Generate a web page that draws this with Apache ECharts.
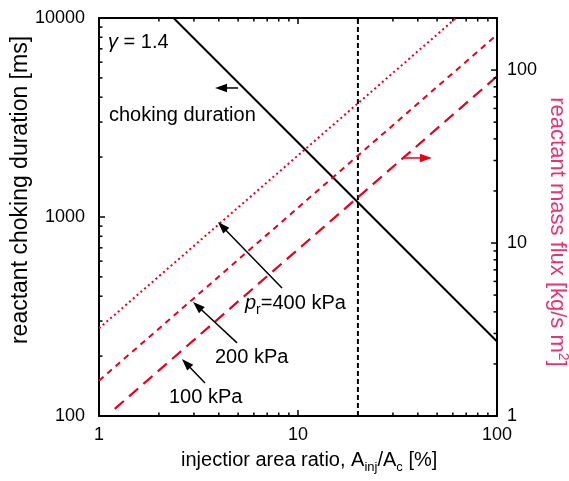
<!DOCTYPE html>
<html><head><meta charset="utf-8">
<script src="https://cdn.jsdelivr.net/npm/echarts@6/dist/echarts.min.js"></script>
<style>html,body{margin:0;padding:0;background:#fff}#c{width:569px;height:481px}</style>
</head><body><div id="c"></div>
<script>
const FONT = '"Liberation Sans", Arial, Helvetica, sans-serif';

// axis ranges
const xRange = [1, 100];
const leftRange = [100, 10000];
const rightRange = [1, 200];

// tick values
const xMajorTicks = [1, 10, 100];
const xMinorTicks = [2, 3, 4, 5, 6, 7, 8, 9, 20, 30, 40, 50, 60, 70, 80, 90];
const leftMajorTicks = [100, 1000, 10000];
const leftMinorTicks = [200, 300, 400, 500, 600, 700, 800, 900, 2000, 3000, 4000, 5000, 6000, 7000, 8000, 9000];
const rightMajorTicks = [1, 10, 100];
const rightMinorTicks = [2, 3, 4, 5, 6, 7, 8, 9, 20, 30, 40, 50, 60, 70, 80, 90, 200];

// choking duration [ms] vs area ratio [%]
const chokingRatio = [2.37, 100];
const chokingDuration = [10000, 237];

// reactant mass flux [kg/s m2] vs area ratio [%]
const ratio400 = [1, 62.3];
const flux400 = [3.21, 200];
const ratio200 = [1, 100];
const flux200 = [1.6, 160];
const ratio100 = [1.2, 100];
const flux100 = [1.1, 92];

// design area ratio (vertical dashed line)
const designRatio = [20, 20];
const designSpan = [100, 10000];

// annotation arrows: [ratio from, duration from, ratio to, duration to, red?]
const arrowFrom = [[5.0, 4450], [34.1, 1980], [8.31, 440], [4.94, 233], [3.41, 146.5]];
const arrowTo = [[3.83, 4450], [47.1, 1980], [3.96, 944], [2.97, 374], [2.61, 193.4]];
const arrowRed = [0, 1, 0, 0, 0];

const zip = (a, b) => a.map((v, i) => [v, b[i]]);
const isPow10 = v => Math.abs(Math.log10(v) - Math.round(Math.log10(v))) < 1e-6;

const tickData = [];
xMajorTicks.forEach(v => tickData.push([v, 100, 0, 1]));
xMinorTicks.forEach(v => tickData.push([v, 100, 0, 0]));
leftMajorTicks.forEach(v => tickData.push([1, v, 1, 1]));
leftMinorTicks.forEach(v => tickData.push([1, v, 1, 0]));
const rightTickData = [];
rightMajorTicks.forEach(v => rightTickData.push([1, v, 2, 1]));
rightMinorTicks.forEach(v => rightTickData.push([1, v, 2, 0]));

function renderTick(params, api) {
  const cs = params.coordSys;
  const kind = api.value(2), major = api.value(3);
  const len = major ? 6 : 3.5;
  const p = api.coord([api.value(0), api.value(1)]);
  const st = { stroke: '#000', lineWidth: 1.5 };
  const segs = [];
  if (kind === 0) {
    segs.push([p[0], cs.y + cs.height, p[0], cs.y + cs.height - len]);
    segs.push([p[0], cs.y, p[0], cs.y + len]);
  } else if (kind === 1) {
    segs.push([cs.x, p[1], cs.x + len, p[1]]);
  } else {
    segs.push([cs.x + cs.width, p[1], cs.x + cs.width - len, p[1]]);
  }
  return { type: 'group', children: segs.map(s => ({ type: 'line', shape: { x1: s[0], y1: s[1], x2: s[2], y2: s[3] }, style: st })) };
}

const arrowData = arrowFrom.map((f, i) => [f[0], f[1], arrowTo[i][0], arrowTo[i][1], arrowRed[i]]);
function renderArrow(params, api) {
  const a = api.coord([api.value(0), api.value(1)]);
  const b = api.coord([api.value(2), api.value(3)]);
  const col = api.value(4) ? '#e6001a' : '#000';
  const dx = b[0] - a[0], dy = b[1] - a[1];
  const L = Math.hypot(dx, dy), ux = dx / L, uy = dy / L;
  const hl = 12, hw = 4.2;
  const bx = b[0] - ux * hl, by = b[1] - uy * hl;
  const nx = -uy, ny = ux;
  return { type: 'group', children: [
    { type: 'line', shape: { x1: a[0], y1: a[1], x2: bx + ux * 2, y2: by + uy * 2 }, style: { stroke: col, lineWidth: 1.5 } },
    { type: 'polygon', shape: { points: [[b[0], b[1]], [bx + nx * hw, by + ny * hw], [bx - nx * hw, by - ny * hw]] }, style: { fill: col } }
  ] };
}

const logAxisBase = {
  type: 'log', logBase: 10,
  axisLine: { show: true, onZero: false, lineStyle: { color: '#000', width: 2 } },
  axisTick: { show: false }, minorTick: { show: false },
  splitLine: { show: false }, minorSplitLine: { show: false }
};
const labelStyle = { color: '#000', fontSize: 18, fontFamily: FONT, formatter: v => isPow10(v) ? String(Math.round(v)) : '' };

const chart = echarts.init(document.getElementById('c'), null, { renderer: 'canvas' });
chart.setOption({
  animation: false,
  backgroundColor: '#fff',
  grid: { left: 99, right: 72, top: 18, bottom: 65, containLabel: false },
  xAxis: [
    Object.assign({}, logAxisBase, { position: 'bottom', min: xRange[0], max: xRange[1], axisLabel: Object.assign({}, labelStyle, { margin: 10 }) }),
    Object.assign({}, logAxisBase, { position: 'top', min: xRange[0], max: xRange[1], axisLabel: { show: false } })
  ],
  yAxis: [
    Object.assign({}, logAxisBase, { position: 'left', min: leftRange[0], max: leftRange[1], axisLabel: Object.assign({}, labelStyle, { margin: 14 }) }),
    Object.assign({}, logAxisBase, { position: 'right', min: rightRange[0], max: rightRange[1], axisLabel: Object.assign({}, labelStyle, { margin: 10 }) })
  ],
  series: [
    { type: 'line', name: 'design', xAxisIndex: 0, yAxisIndex: 0, data: zip(designRatio, designSpan), symbol: 'none', silent: true,
      lineStyle: { color: '#000', width: 2, type: [5, 3] } },
    { type: 'line', name: 'choking duration', xAxisIndex: 0, yAxisIndex: 0, data: zip(chokingRatio, chokingDuration), symbol: 'none', silent: true,
      lineStyle: { color: '#000', width: 2 } },
    { type: 'line', name: '400 kPa', xAxisIndex: 0, yAxisIndex: 1, data: zip(ratio400, flux400), symbol: 'none', silent: true,
      lineStyle: { color: '#e6001a', width: 2, type: [2, 3] } },
    { type: 'line', name: '200 kPa', xAxisIndex: 0, yAxisIndex: 1, data: zip(ratio200, flux200), symbol: 'none', silent: true,
      lineStyle: { color: '#e6001a', width: 2, type: [6, 5] } },
    { type: 'line', name: '100 kPa', xAxisIndex: 0, yAxisIndex: 1, data: zip(ratio100, flux100), symbol: 'none', silent: true,
      lineStyle: { color: '#e6001a', width: 2.2, type: [12, 7] } },
    { type: 'custom', name: 'ticks', xAxisIndex: 0, yAxisIndex: 0, data: tickData, renderItem: renderTick, encode: { x: 0, y: 1 }, silent: true, z: 5 },
    { type: 'custom', name: 'rticks', xAxisIndex: 0, yAxisIndex: 1, data: rightTickData, renderItem: renderTick, encode: { x: 0, y: 1 }, silent: true, z: 5 },
    { type: 'custom', name: 'arrows', xAxisIndex: 0, yAxisIndex: 0, data: arrowData, renderItem: renderArrow, encode: { x: [0, 2], y: [1, 3] }, silent: true, z: 6 }
  ],
  graphic: [
    { type: 'text', x: 108, y: 42, style: { text: '{g|γ}{m| = 1.4}', verticalAlign: 'middle', rich: {
      g: { fontSize: 20, fontFamily: FONT, fontStyle: 'italic', fill: '#000' }, m: { fontSize: 20, fontFamily: FONT, fill: '#000' } } } },
    { type: 'text', x: 109, y: 115, style: { text: 'choking duration', fontSize: 20, fontFamily: FONT, fill: '#000', verticalAlign: 'middle' } },
    { type: 'text', x: 245, y: 303, style: { text: '{p|p}{s|r}{m|=400 kPa}', verticalAlign: 'middle', rich: {
      p: { fontSize: 20, fontFamily: FONT, fontStyle: 'italic', fill: '#000', lineHeight: 28 },
      s: { fontSize: 14, fontFamily: FONT, fill: '#000', lineHeight: 14, verticalAlign: 'bottom' },
      m: { fontSize: 20, fontFamily: FONT, fill: '#000', lineHeight: 28 } } } },
    { type: 'text', x: 215, y: 357, style: { text: '200 kPa', fontSize: 20, fontFamily: FONT, fill: '#000', verticalAlign: 'middle' } },
    { type: 'text', x: 169, y: 397, style: { text: '100 kPa', fontSize: 20, fontFamily: FONT, fill: '#000', verticalAlign: 'middle' } },
    { type: 'text', x: 181, y: 460, style: { text: '{m|injectior area ratio, A}{s|inj}{m|/A}{s|c}{m| [%]}', verticalAlign: 'middle', rich: {
      m: { fontSize: 20, fontFamily: FONT, fill: '#000', lineHeight: 28 },
      s: { fontSize: 13, fontFamily: FONT, fill: '#000', lineHeight: 13, verticalAlign: 'bottom' } } } },
    { type: 'text', x: 21, y: 190, rotation: Math.PI / 2, style: { text: 'reactant choking duration [ms]', fontSize: 23, fontFamily: FONT, fill: '#000', align: 'center', verticalAlign: 'middle' } },
    { type: 'text', x: 557, y: 232, rotation: -Math.PI / 2, style: { text: '{m|reactant mass flux [kg/s m}{s|2}{m|]}', align: 'center', verticalAlign: 'middle', rich: {
      m: { fontSize: 22, fontFamily: FONT, fill: '#e8336e', lineHeight: 26 },
      s: { fontSize: 14, fontFamily: FONT, fill: '#e8336e', lineHeight: 14, verticalAlign: 'top' } } } }
  ]
});
</script></body></html>
